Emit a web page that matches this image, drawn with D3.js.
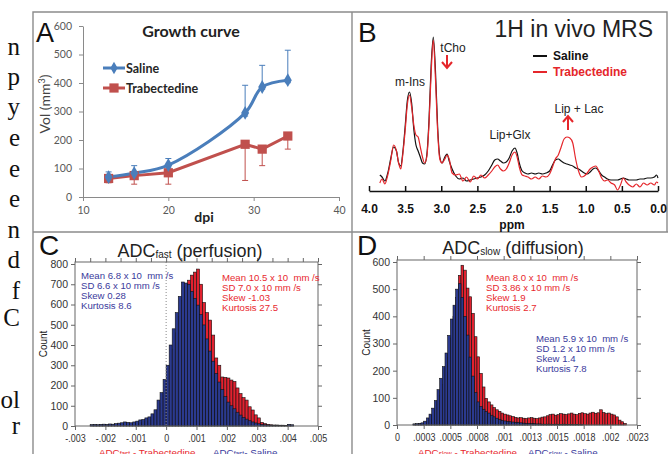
<!DOCTYPE html>
<html>
<head>
<meta charset="utf-8">
<script src="https://cdn.jsdelivr.net/npm/d3@7"></script>
<style>
body { margin: 0; background: #fff; }
svg { display: block; }
text { white-space: pre; }
</style>
</head>
<body>
<div id="canvas"></div>
<script>
"use strict"

/* Panel A: growth curve */
let dpi = [13, 16, 20, 29, 31, 34];
let salineVol = [70, 84, 112, 295, 386, 410];
let salineErrHigh = [88, 110, 135, 392, 462, 515];
let salineErrLow = [60, 76, 102, 284, 378, 401];
let trabVol = [65, 75, 85, 185, 168, 214];
let trabErrLow = [50, 45, 45, 58, 110, 168];
let volTicks = [0, 100, 200, 300, 400, 500, 600];
let dpiTicks = [10, 20, 30, 40];

/* Panel B: 1H MRS spectra (height above baseline, arbitrary units) */
let ppm = [3.85, 3.82, 3.78, 3.74, 3.70, 3.66, 3.62, 3.59, 3.56, 3.53,
    3.50, 3.47, 3.44, 3.41, 3.38, 3.35, 3.32, 3.29, 3.26, 3.23,
    3.20, 3.17, 3.14, 3.11, 3.08, 3.05, 3.02, 2.99, 2.95, 2.92,
    2.89, 2.85, 2.80, 2.75, 2.70, 2.65, 2.60, 2.55, 2.50, 2.45,
    2.40, 2.35, 2.30, 2.26, 2.22, 2.18, 2.14, 2.10, 2.06, 2.02,
    1.98, 1.95, 1.92, 1.88, 1.84, 1.80, 1.75, 1.70, 1.65, 1.60,
    1.55, 1.50, 1.46, 1.42, 1.38, 1.34, 1.30, 1.26, 1.22, 1.18,
    1.14, 1.10, 1.06, 1.02, 0.98, 0.94, 0.90, 0.86, 0.82, 0.78,
    0.74, 0.70, 0.65, 0.60, 0.56, 0.52, 0.48, 0.44, 0.40, 0.35,
    0.30, 0.25, 0.20, 0.15, 0.10, 0.05, 0.02, 0.00];
let salineSpec = [16, 14, 10, 18, 32, 44, 40, 28, 25, 40,
    64, 90, 99, 88, 62, 46, 40, 34, 28, 27,
    36, 70, 125, 154, 120, 64, 34, 28, 34, 37,
    30, 22, 15, 12, 13, 10, 11, 12, 13, 14,
    16, 20, 26, 31, 32, 30, 28, 29, 33, 40,
    43, 38, 28, 20, 18, 17, 18, 17, 18, 17,
    18, 20, 26, 31, 32, 30, 28, 27, 26, 25,
    23, 22, 20, 18, 17, 19, 22, 23, 20, 16,
    14, 12, 11, 11, 11, 12, 13, 12, 11, 11,
    11, 12, 12, 13, 13, 14, 16, 13];
let trabSpec = [8, 12, 7, 16, 30, 46, 40, 28, 22, 38,
    60, 86, 96, 84, 66, 56, 54, 44, 34, 28,
    34, 66, 118, 151, 112, 60, 32, 28, 32, 36,
    32, 18, 16, 17, 10, 14, 9, 15, 12, 16,
    13, 16, 20, 24, 26, 22, 20, 22, 28, 36,
    39, 34, 24, 16, 15, 14, 12, 14, 12, 15,
    14, 17, 24, 32, 36, 44, 52, 54, 53, 48,
    32, 20, 14, 15, 18, 22, 24, 25, 20, 13,
    10, 11, 8, 6, 1, 6, 13, 9, 6, 4,
    7, 4, 8, 6, 8, 6, 9, 8];
let ppmTicks = [4.0, 3.5, 3.0, 2.5, 2.0, 1.5, 1.0, 0.5, 0.0];

/* Panel C: ADC fast histograms, bins of 0.0001 from -0.0025 */
let fastBinStart = -0.0025;
let fastBinWidth = 0.0001;
let fastSaline = [7, 8, 7, 8, 9, 8, 10, 9, 12, 14,
    16, 20, 18, 16, 20, 24, 30, 32, 40, 45,
    60, 80, 128, 165, 230, 300, 400, 480, 560, 640,
    711, 706, 700, 665, 630, 597, 550, 499, 430, 370,
    320, 260, 217, 180, 145, 118, 100, 85, 68, 54,
    42, 34, 26, 20, 15, 11, 8, 6, 5, 4,
    3, 3, 3, 2, 2, 8, 6];
let fastTrab = [3, 4, 3, 5, 4, 5, 6, 5, 7, 8,
    9, 10, 9, 10, 12, 14, 16, 20, 24, 30,
    40, 55, 80, 110, 160, 220, 300, 380, 460, 540,
    620, 690, 720, 745, 760, 775, 700, 610, 560, 523,
    449, 336, 300, 242, 240, 237, 227, 220, 188, 160,
    140, 128, 95, 79, 55, 40, 18, 12, 8, 6,
    5, 5, 4, 4, 3, 5, 4];
let fastTicks = [-0.003, -0.002, -0.001, 0, 0.001, 0.002, 0.003, 0.004, 0.005];
let fastTickLabels = ["-.003", "-.002", "-.001", "0", ".001", ".002", ".003", ".004", ".005"];
let fastCountTicks = [0, 100, 200, 300, 400, 500, 600, 700, 800];
let fastSalineStats = ["Mean 6.8 x 10  mm /s", "SD 6.6 x 10 mm /s", "Skew 0.28", "Kurtosis 8.6"];
let fastTrabStats = ["Mean 10.5 x 10  mm /s", "SD 7.0 x 10 mm /s", "Skew -1.03", "Kurtosis 27.5"];

/* Panel D: ADC slow histograms, bins of 0.000025 from 0.00015 */
let slowBinStart = 0.00015;
let slowBinWidth = 0.000025;
let slowSaline = [4, 5, 6, 8, 14, 26, 40, 62, 90, 130,
    172, 215, 265, 330, 390, 441, 500, 520, 470, 400,
    331, 250, 180, 120, 85, 68, 58, 50, 44, 36,
    30, 25, 20, 17, 15, 13, 12, 11, 10, 9,
    8, 7, 6, 6, 5, 5, 4, 4, 3, 3,
    3, 3, 2, 3, 2, 2, 3, 2, 2, 2,
    1, 2, 1, 1, 0, 0, 0, 0, 0, 0,
    0, 0, 0, 0, 0, 0, 0, 0, 0, 0];
let slowTrab = [3, 3, 4, 5, 8, 14, 22, 35, 55, 80,
    110, 150, 195, 250, 320, 400, 470, 551, 588, 570,
    504, 472, 411, 325, 251, 190, 140, 98, 85, 74,
    64, 56, 50, 44, 40, 37, 34, 31, 28, 26,
    27, 25, 24, 26, 27, 25, 24, 26, 29, 30,
    34, 38, 40, 36, 38, 42, 40, 38, 41, 44,
    40, 38, 43, 45, 42, 40, 44, 47, 43, 45,
    56, 46, 42, 44, 40, 37, 30, 18, 12, 6];
let slowTicks = [0, 0.00025, 0.0005, 0.00075, 0.001, 0.00125, 0.0015, 0.00175, 0.002, 0.00225];
let slowTickLabels = ["0", ".0003", ".0005", ".0008", ".001", ".0013", ".0015", ".0018", ".002", ".0023"];
let slowCountTicks = [0, 100, 200, 300, 400, 500, 600];
let slowTrabStats = ["Mean 8.0 x 10  mm /s", "SD 3.86 x 10 mm /s", "Skew 1.9", "Kurtosis 2.7"];
let slowSalineStats = ["Mean 5.9 x 10  mm /s", "SD 1.2 x 10 mm /s", "Skew 1.4", "Kurtosis 7.8"];

/* text cut off at the left edge (from the page the figure was taken from) */
let stripLetters = ["n", "p", "y", "e", "e", "e", "n", "d", "f", "C", "ol", "r"];

/* colours and fonts */
let calibri = "Lato, 'Open Sans', sans-serif";
let arial = "'Liberation Sans', Arial, sans-serif";
let serif = "'Liberation Serif', 'Times New Roman', serif";
let aBlue = "#4a7ebb";
let aRed = "#c0504d";
let histBlue = "#2b3a8f";
let histRed = "#e2212f";
let statBlue = "#3a3a9c";
let statRed = "#e8282e";

let svg = d3.select("#canvas")
    .append("svg")
    .attr("width", 668)
    .attr("height", 454);

/* panel frames */
svg.append("path")
    .attr("d", "M33,454V12H667V232M33,232H668M352,12V454")
    .attr("fill", "none")
    .attr("stroke", "#8c8c8c")
    .attr("stroke-width", 1.4);

/* left strip of body text */
let stripY = [55, 85, 115, 146, 177, 207, 238, 268, 299, 326, 408, 434];
svg.append("g")
    .selectAll("text")
    .data(stripLetters)
    .join("text")
    .attr("x", 20)
    .attr("y", (d, i) => stripY[i])
    .attr("text-anchor", "end")
    .attr("font-family", serif)
    .attr("font-size", 25)
    .attr("fill", "#111")
    .text(d => d);

/* ================= Panel A ================= */
let gA = svg.append("g");
let xA = d3.scaleLinear().domain([10, 40]).range([83, 339]);
let yA = d3.scaleLinear().domain([0, 600]).range([197, 26]);

let yAxisA = gA.append("g")
    .attr("transform", "translate(83,0)")
    .call(d3.axisLeft(yA).tickValues(volTicks).tickSize(4).tickSizeOuter(0).tickPadding(7));
let xAxisA = gA.append("g")
    .attr("transform", "translate(0,197)")
    .call(d3.axisBottom(xA).tickValues(dpiTicks).tickSize(4).tickSizeOuter(0).tickPadding(6));
[yAxisA, xAxisA].forEach(function (ax) {
    ax.selectAll("path, line").attr("stroke", "#8a8a8a");
    ax.selectAll("text")
        .attr("font-family", calibri)
        .attr("font-size", 10.5)
        .attr("fill", "#595959");
});

gA.append("text")
    .attr("x", 36).attr("y", 42)
    .attr("font-family", arial).attr("font-size", 27)
    .attr("fill", "#111")
    .text("A");
gA.append("text")
    .attr("x", 191).attr("y", 37)
    .attr("text-anchor", "middle")
    .attr("font-family", calibri).attr("font-size", 16).attr("font-weight", "bold")
    .attr("fill", "#222")
    .text("Growth curve");
gA.append("text")
    .attr("x", 204).attr("y", 222)
    .attr("text-anchor", "middle")
    .attr("font-family", calibri).attr("font-size", 14).attr("font-weight", "bold")
    .attr("fill", "#222")
    .text("dpi");
let volLabel = gA.append("text")
    .attr("transform", "translate(50,104) rotate(-90)")
    .attr("text-anchor", "middle")
    .attr("font-family", calibri).attr("font-size", 14)
    .attr("fill", "#444");
volLabel.append("tspan").text("Vol (mm");
volLabel.append("tspan").attr("dy", -5).attr("font-size", 9).text("3");
volLabel.append("tspan").attr("dy", 5).text(")");

/* error bars */
function errorBars(g, lows, highs, colour) {
    dpi.forEach(function (d, i) {
        let x = xA(d);
        g.append("path")
            .attr("d", "M" + x + "," + yA(lows[i]) + "V" + yA(highs[i]) +
                "M" + (x - 3) + "," + yA(lows[i]) + "h6" +
                "M" + (x - 3) + "," + yA(highs[i]) + "h6")
            .attr("stroke", colour)
            .attr("stroke-width", 1)
            .attr("fill", "none");
    });
}
errorBars(gA, trabErrLow, trabVol, aRed);
errorBars(gA, salineErrLow, salineErrHigh, aBlue);

let salineLine = d3.line()
    .x((d, i) => xA(dpi[i]))
    .y(d => yA(d))
    .curve(d3.curveCatmullRom.alpha(0.5));
let trabLine = d3.line()
    .x((d, i) => xA(dpi[i]))
    .y(d => yA(d));

gA.append("path")
    .attr("d", trabLine(trabVol))
    .attr("fill", "none").attr("stroke", aRed).attr("stroke-width", 3);
gA.append("path")
    .attr("d", salineLine(salineVol))
    .attr("fill", "none").attr("stroke", aBlue).attr("stroke-width", 3);

gA.selectAll(".sq")
    .data(trabVol)
    .join("path")
    .attr("transform", (d, i) => "translate(" + xA(dpi[i]) + "," + yA(d) + ")")
    .attr("d", d3.symbol(d3.symbolSquare, 85))
    .attr("fill", aRed);
gA.selectAll(".dia")
    .data(salineVol)
    .join("path")
    .attr("transform", (d, i) => "translate(" + xA(dpi[i]) + "," + yA(d) + ")")
    .attr("d", d3.symbol(d3.symbolDiamond, 55))
    .attr("fill", aBlue);

/* legend A */
let legendA = [
    { name: "Saline", colour: aBlue, shape: d3.symbolDiamond, size: 45, y: 68 },
    { name: "Trabectedine", colour: aRed, shape: d3.symbolSquare, size: 85, y: 88 }
];
legendA.forEach(function (item) {
    gA.append("line")
        .attr("x1", 103).attr("x2", 125)
        .attr("y1", item.y).attr("y2", item.y)
        .attr("stroke", item.colour).attr("stroke-width", 3);
    gA.append("path")
        .attr("transform", "translate(114," + item.y + ")")
        .attr("d", d3.symbol(item.shape, item.size))
        .attr("fill", item.colour);
    gA.append("text")
        .attr("x", 126).attr("y", item.y + 4.5)
        .attr("font-family", calibri).attr("font-size", 12.5).attr("font-weight", "bold")
        .attr("fill", "#262626")
        .text(item.name);
});

/* ================= Panel B ================= */
let gB = svg.append("g");
let xB = d3.scaleLinear().domain([4, 0]).range([369, 658]);
let yB = d3.scaleLinear().domain([0, 160]).range([191, 31]);

let xAxisB = gB.append("g")
    .attr("transform", "translate(0,191)")
    .call(d3.axisBottom(xB).tickValues(ppmTicks).tickSize(-5).tickSizeOuter(0)
        .tickPadding(13).tickFormat(d3.format(".1f")));
xAxisB.selectAll("path, line").attr("stroke", "#111").attr("stroke-width", 1.5);
xAxisB.selectAll("text")
    .attr("font-family", arial).attr("font-size", 12).attr("font-weight", "bold")
    .attr("fill", "#111");

gB.append("text")
    .attr("x", 512).attr("y", 229)
    .attr("text-anchor", "middle")
    .attr("font-family", arial).attr("font-size", 12).attr("font-weight", "bold")
    .attr("fill", "#111")
    .text("ppm");

let specLine = d3.line()
    .x((d, i) => xB(ppm[i]))
    .y(d => yB(d))
    .curve(d3.curveMonotoneX);
gB.append("path")
    .attr("d", specLine(salineSpec))
    .attr("fill", "none").attr("stroke", "#111").attr("stroke-width", 1.2);
gB.append("path")
    .attr("d", specLine(trabSpec))
    .attr("fill", "none").attr("stroke", "#e5262b").attr("stroke-width", 1.2);

gB.append("text")
    .attr("x", 358).attr("y", 42)
    .attr("font-family", arial).attr("font-size", 28)
    .attr("fill", "#111")
    .text("B");
gB.append("text")
    .attr("x", 653).attr("y", 37)
    .attr("text-anchor", "end")
    .attr("font-family", arial).attr("font-size", 23)
    .attr("fill", "#222")
    .text("1H in vivo MRS");

let legendB = [
    { name: "Saline", colour: "#111", y: 56 },
    { name: "Trabectedine", colour: "#e5262b", y: 72 }
];
legendB.forEach(function (item) {
    gB.append("line")
        .attr("x1", 533).attr("x2", 547)
        .attr("y1", item.y).attr("y2", item.y)
        .attr("stroke", item.colour).attr("stroke-width", 2);
    gB.append("text")
        .attr("x", 553).attr("y", item.y + 4)
        .attr("font-family", arial).attr("font-size", 12).attr("font-weight", "bold")
        .attr("fill", item.colour)
        .text(item.name);
});

let peakLabels = [
    { text: "m-Ins", x: 410, y: 86 },
    { text: "tCho", x: 453, y: 52 },
    { text: "Lip+Glx", x: 510, y: 139 },
    { text: "Lip + Lac", x: 579, y: 113 }
];
peakLabels.forEach(function (p) {
    gB.append("text")
        .attr("x", p.x).attr("y", p.y)
        .attr("text-anchor", "middle")
        .attr("font-family", arial).attr("font-size", 12)
        .attr("fill", "#222")
        .text(p.text);
});
/* arrows: tCho down, Lip + Lac up */
gB.append("path")
    .attr("d", "M447,55V68M442,62L447,68L452,62")
    .attr("fill", "none").attr("stroke", "#e5262b").attr("stroke-width", 2);
gB.append("path")
    .attr("d", "M568,130V116M563,122L568,116L573,122")
    .attr("fill", "none").attr("stroke", "#e5262b").attr("stroke-width", 2);

/* ================= Histogram panels ================= */
function histogramPanel(cfg) {
    let g = svg.append("g");
    let x = cfg.x;
    let y = cfg.y;
    let [left, right] = x.range();
    let bottom = y(0);
    let top = y(cfg.countTicks[cfg.countTicks.length - 1]) - 2;

    /* bars: Trabectedine behind, Saline in front */
    [[cfg.trab, histRed], [cfg.saline, histBlue]].forEach(function (pair) {
        g.append("g")
            .selectAll("rect")
            .data(pair[0])
            .join("rect")
            .attr("x", (d, i) => x(cfg.binStart + i * cfg.binWidth))
            .attr("width", (d, i) => x(cfg.binStart + (i + 1) * cfg.binWidth) - x(cfg.binStart + i * cfg.binWidth))
            .attr("y", d => y(d))
            .attr("height", d => bottom - y(d))
            .attr("fill", pair[1])
            .attr("stroke", "#111")
            .attr("stroke-width", 0.6);
    });

    if (cfg.zeroLine) {
        g.append("line")
            .attr("x1", x(0)).attr("x2", x(0))
            .attr("y1", top).attr("y2", bottom)
            .attr("stroke", "#888").attr("stroke-dasharray", "1,2");
    }

    /* frame */
    g.append("rect")
        .attr("x", left).attr("y", top)
        .attr("width", right - left).attr("height", bottom - top)
        .attr("fill", "none").attr("stroke", "#666").attr("stroke-width", 1);

    let leftAxis = g.append("g")
        .attr("transform", "translate(" + left + ",0)")
        .call(d3.axisLeft(y).tickValues(cfg.countTicks).tickSize(4).tickSizeOuter(0).tickPadding(3));
    let rightAxis = g.append("g")
        .attr("transform", "translate(" + right + ",0)")
        .call(d3.axisRight(y).tickValues(cfg.countTicks).tickSize(4).tickSizeOuter(0).tickFormat(""));
    let bottomAxis = g.append("g")
        .attr("transform", "translate(0," + bottom + ")")
        .call(d3.axisBottom(x).tickValues(cfg.ticks).tickSize(4).tickSizeOuter(0).tickPadding(4)
            .tickFormat((d, i) => cfg.tickLabels[i]));
    let topAxis = g.append("g")
        .attr("transform", "translate(0," + top + ")")
        .call(d3.axisTop(x).tickValues(cfg.topTicks).tickSize(4).tickSizeOuter(0).tickFormat(""));
    [leftAxis, rightAxis, bottomAxis, topAxis].forEach(function (ax) {
        ax.select(".domain").remove();
        ax.selectAll("line").attr("stroke", "#666");
        ax.selectAll("text")
            .attr("font-family", arial).attr("font-size", 10.5)
            .attr("fill", "#333");
    });
    /* the original tick font is a narrow one */
    bottomAxis.selectAll("text")
        .attr("font-size", 11.5)
        .attr("transform", "scale(0.78,1)");

    g.append("text")
        .attr("transform", "translate(" + cfg.countX + "," + ((top + bottom) / 2) + ") rotate(-90)")
        .attr("text-anchor", "middle")
        .attr("font-family", arial).attr("font-size", 10)
        .attr("fill", "#222")
        .text("Count");

    g.append("text")
        .attr("x", cfg.letterX).attr("y", 255)
        .attr("font-family", arial).attr("font-size", 28)
        .attr("fill", "#111")
        .text(cfg.letter);

    let title = g.append("text")
        .attr("x", cfg.titleX).attr("y", cfg.titleY)
        .attr("text-anchor", "middle")
        .attr("font-family", arial).attr("font-size", 18)
        .attr("fill", "#222");
    title.append("tspan").text("ADC");
    title.append("tspan").attr("font-size", 10).attr("dy", 1).text(cfg.sub);
    title.append("tspan").attr("dy", -1).text(" " + cfg.titleTail);

    cfg.stats.forEach(function (s) {
        g.append("g")
            .selectAll("text")
            .data(s.lines)
            .join("text")
            .attr("x", s.x)
            .attr("y", (d, i) => s.y + i * 10.3)
            .attr("font-family", arial).attr("font-size", 9.6)
            .attr("fill", s.colour)
            .text(d => d);
    });

    cfg.legend.forEach(function (l) {
        let t = g.append("text")
            .attr("x", l.x).attr("y", 456)
            .attr("font-family", arial).attr("font-size", 9.8)
            .attr("fill", l.colour);
        t.append("tspan").text("ADC");
        t.append("tspan").attr("font-size", 6.5).text(cfg.sub);
        t.append("tspan").text(l.tail);
    });
}

histogramPanel({
    x: d3.scaleLinear().domain([-0.003, 0.005]).range([75, 318]),
    y: d3.scaleLinear().domain([0, 800]).range([426, 264]),
    binStart: fastBinStart, binWidth: fastBinWidth,
    saline: fastSaline, trab: fastTrab,
    ticks: fastTicks, tickLabels: fastTickLabels,
    topTicks: d3.range(-0.003, 0.00501, 0.0005),
    countTicks: fastCountTicks,
    zeroLine: true,
    countX: 47,
    letter: "C", letterX: 39,
    sub: "fast", titleTail: "(perfusion)", titleX: 190, titleY: 257,
    stats: [
        { lines: fastSalineStats, x: 81, y: 278.5, colour: statBlue },
        { lines: fastTrabStats, x: 222, y: 280.5, colour: statRed }
    ],
    legend: [
        { x: 99, tail: " - Trabectedine", colour: statRed },
        { x: 213, tail: "- Saline", colour: statBlue }
    ]
});

histogramPanel({
    x: d3.scaleLinear().domain([0, 0.00225]).range([397, 637]),
    y: d3.scaleLinear().domain([0, 600]).range([425, 262]),
    binStart: slowBinStart, binWidth: slowBinWidth,
    saline: slowSaline, trab: slowTrab,
    ticks: slowTicks, tickLabels: slowTickLabels,
    topTicks: slowTicks,
    countTicks: slowCountTicks,
    zeroLine: false,
    countX: 370,
    letter: "D", letterX: 357,
    sub: "slow", titleTail: "(diffusion)", titleX: 513, titleY: 254,
    stats: [
        { lines: slowTrabStats, x: 486, y: 280.5, colour: statRed },
        { lines: slowSalineStats, x: 536, y: 341.5, colour: statBlue }
    ],
    legend: [
        { x: 418, tail: " - Trabectedine", colour: statRed },
        { x: 528, tail: " - Saline", colour: statBlue }
    ]
});
</script>
</body>
</html>
